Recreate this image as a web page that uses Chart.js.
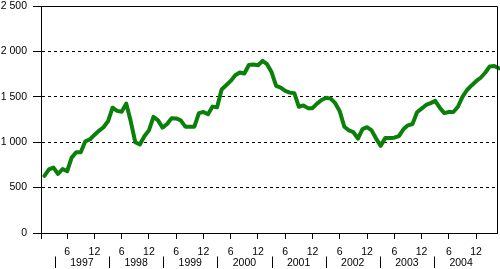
<!DOCTYPE html>
<html><head><meta charset="utf-8">
<script src="https://cdn.jsdelivr.net/npm/chart.js@4.4.1/dist/chart.umd.min.js"></script>
<style>html,body{margin:0;padding:0;background:#fff;}#wrap{width:500px;height:269px;position:relative;}</style>
</head><body><div id="wrap"><canvas id="c" width="500" height="269"></canvas></div>
<script>
// Monthly values, January 1997 onwards
const values = [
  630, 700, 720, 650, 705, 680, 830, 890, 890, 1010, 1030, 1080,
  1125, 1165, 1230, 1380, 1345, 1335, 1425, 1230, 1000, 975, 1065, 1130,
  1280, 1240, 1160, 1200, 1265, 1262, 1240, 1171, 1171, 1171, 1320, 1333,
  1307, 1392, 1385, 1580, 1627, 1675, 1737, 1767, 1756, 1850, 1855, 1848,
  1895, 1859, 1770, 1620, 1600, 1564, 1546, 1540, 1390, 1405, 1375, 1375,
  1425, 1465, 1490, 1480, 1430, 1340, 1170, 1130, 1110, 1040, 1145, 1165,
  1130, 1040, 960, 1045, 1045, 1050, 1068, 1142, 1186, 1200, 1330, 1370,
  1410, 1430, 1455, 1380, 1320, 1333, 1333, 1390, 1500, 1575, 1625, 1672,
  1710, 1765, 1835, 1840, 1815
];
const startYear = 1997;
const years = ['1997', '1998', '1999', '2000', '2001', '2002', '2003', '2004'];
const monthTickLabels = ['6', '12'];
const yTickValues = [0, 500, 1000, 1500, 2000, 2500];

const points = values.map((v, i) => ({x: i, y: v}));
const monthOf = i => (i % 12) + 1;
const xTickValues = values.map((v, i) => i).filter(i => monthTickLabels.includes(String(monthOf(i))));

const FONT = {family: "'Liberation Sans', Arial, sans-serif", size: 10.5};
const X_MIN = -0.75, X_MAX = 99.6;
const SEP_START = 2.3, YEAR_SPAN = 11.92;

const fmt = v => String(v).replace(/\B(?=(\d{3})+(?!\d))/g, ' ');

const framePlugin = {
  id: 'frame',
  afterDraw(chart) {
    const {ctx, chartArea: a, scales: {x}} = chart;
    ctx.save();
    ctx.strokeStyle = '#000';
    ctx.lineWidth = 1;
    ctx.beginPath();
    const top = Math.round(a.top) + 0.5, right = Math.round(a.right) + 0.5;
    ctx.moveTo(Math.round(a.left), top);
    ctx.lineTo(right, top);
    ctx.lineTo(right, Math.round(a.bottom) + 0.5);
    ctx.stroke();
    // year separators and labels
    ctx.font = FONT.size + 'px ' + FONT.family;
    ctx.fillStyle = '#000';
    ctx.textAlign = 'center';
    ctx.textBaseline = 'middle';
    years.forEach((yr, k) => {
      const p0 = x.getPixelForValue(SEP_START + k * YEAR_SPAN);
      const p1 = x.getPixelForValue(SEP_START + (k + 1) * YEAR_SPAN);
      const xs = Math.round(p0) + 0.5;
      ctx.beginPath();
      ctx.moveTo(xs, 256.5);
      ctx.lineTo(xs, 268);
      ctx.stroke();
      ctx.fillText(yr, (p0 + p1) / 2, 263);
    });
    ctx.restore();
  }
};

new Chart(document.getElementById('c'), {
  type: 'line',
  data: {
    datasets: [{
      data: points,
      borderColor: '#0a800a',
      borderWidth: 4,
      pointRadius: 0,
      tension: 0,
      fill: false,
      clip: false,
      borderJoinStyle: 'round',
      borderCapStyle: 'round'
    }]
  },
  options: {
    responsive: false,
    devicePixelRatio: 1,
    animation: false,
    events: [],
    layout: {padding: {top: 6, right: 3, left: 0, bottom: 0}},
    plugins: {legend: {display: false}, tooltip: {enabled: false}},
    scales: {
      x: {
        type: 'linear',
        min: X_MIN,
        max: X_MAX,
        afterBuildTicks: s => { s.ticks = [{value: X_MIN}].concat(xTickValues.map(v => ({value: v}))); },
        afterFit: s => { s.height = 36; s.paddingLeft = 0; s.paddingRight = 0; },
        ticks: {
          autoSkip: false, maxRotation: 0, color: '#000', font: FONT, padding: 6.5,
          callback: v => (v === X_MIN ? '' : String(monthOf(Math.round(v))))
        },
        grid: {drawOnChartArea: false, drawTicks: true, tickLength: 6, tickColor: '#000', color: '#000'},
        border: {display: true, color: '#000', width: 1}
      },
      y: {
        type: 'linear',
        min: 0,
        max: 2500,
        afterBuildTicks: s => { s.ticks = yTickValues.map(v => ({value: v})); },
        afterFit: s => { s.width = 41; s.paddingTop = 0; s.paddingBottom = 0; },
        ticks: {color: '#000', font: FONT, padding: 6, callback: v => fmt(v)},
        grid: {
          drawOnChartArea: true, drawTicks: true, tickLength: 8, tickColor: '#000',
          color: c => (c.tick && (c.tick.value === 0 || c.tick.value === 2500)) ? 'rgba(0,0,0,0)' : '#000'
        },
        border: {display: true, color: '#000', width: 1, dash: [3, 3]}
      }
    }
  },
  plugins: [framePlugin]
});
</script>
</body></html>
